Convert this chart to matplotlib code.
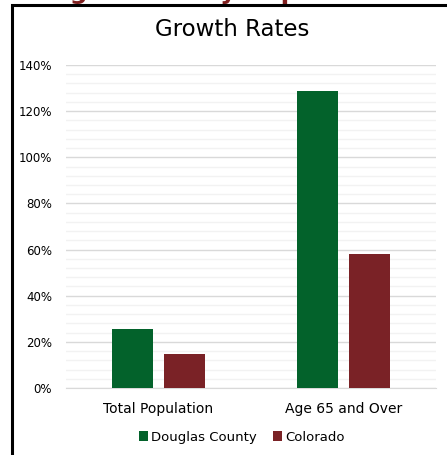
import numpy as np
import matplotlib.pyplot as plt
from matplotlib.patches import Rectangle
from matplotlib.ticker import MultipleLocator, PercentFormatter

plt.rcParams['font.family'] = ['DejaVu Sans']

# data
categories = ['Total Population', 'Age 65 and Over']
douglas = [0.256, 1.289]
colorado = [0.147, 0.580]
series_names = ['Douglas County', 'Colorado']
colors = ['#03622B', '#7A2226']

fig = plt.figure(figsize=(4.47, 4.55), dpi=100)

# frame around the chart (goes off the right and bottom edges)
fig.patches.append(Rectangle((12 / 447, -0.05), 1.1, 1.05 - 5.5 / 455,
                             transform=fig.transFigure, fill=False,
                             edgecolor='black', linewidth=2.2, zorder=5))

# slide heading, mostly cut off above the picture
fig.text(14 / 447, 1 + 1.5 / 455, 'Douglas County Population Trends',
         fontsize=18, fontweight='bold', color='#7F1F1F',
         ha='left', va='baseline')

ax = fig.add_axes([66 / 447, 1 - 388 / 455, 370 / 447, 323 / 455])

x = np.arange(len(categories))
w = 0.222
off = 0.142
ax.bar(x - off, douglas, w, color=colors[0], label=series_names[0], zorder=3)
ax.bar(x + off, colorado, w, color=colors[1], label=series_names[1], zorder=3)

ax.set_xlim(-0.5, 1.5)
ax.set_ylim(0, 1.4)
ax.yaxis.set_major_locator(MultipleLocator(0.2))
ax.yaxis.set_minor_locator(MultipleLocator(0.04))
ax.yaxis.set_major_formatter(PercentFormatter(1.0, decimals=0))
ax.grid(axis='y', which='major', color='#d9d9d9', linewidth=1, zorder=0)
ax.grid(axis='y', which='minor', color='#f2f2f2', linewidth=1, zorder=0)
ax.set_axisbelow(True)

ax.set_xticks(x)
ax.set_xticklabels(categories, fontsize=10)
ax.tick_params(axis='y', which='both', length=0, labelsize=8.5, pad=10)
ax.tick_params(axis='x', length=0, pad=10)
for s in ['top', 'right', 'left']:
    ax.spines[s].set_visible(False)
ax.spines['bottom'].set_color('#d9d9d9')

fig.text(232 / 447, 1 - 29 / 455, 'Growth Rates', fontsize=16.5,
         ha='center', va='center')

ax.legend(loc='center', bbox_to_anchor=(0.475, -0.152), ncol=2,
          frameon=False, fontsize=9.5, handlelength=0.7, handleheight=0.7,
          handletextpad=0.25, columnspacing=1.2)

fig.savefig('out.png', dpi=100)
